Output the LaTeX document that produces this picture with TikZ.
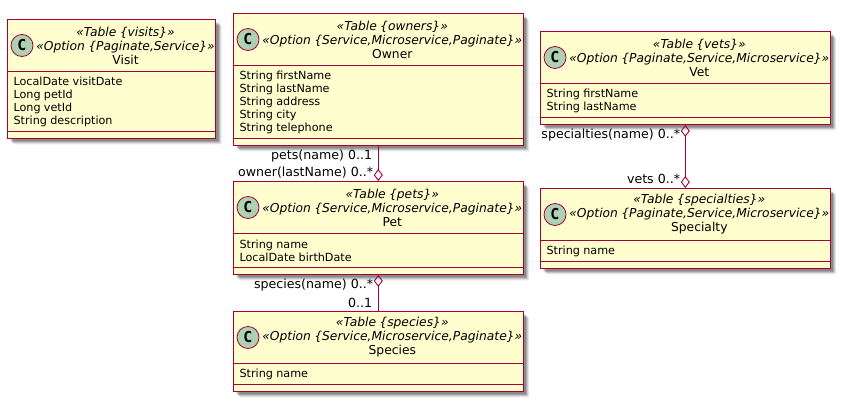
\documentclass[tikz,border=0pt]{standalone}
\usepackage{fontspec}
\setmainfont{DejaVu Sans}
\newfontfamily\markfont{DejaVu Sans Mono}
\usepackage{tikz}
\usetikzlibrary{arrows.meta,positioning,shadows,shapes.multipart}
\definecolor{umlline}{HTML}{A80036}
\definecolor{umlfill}{HTML}{FEFECE}
\definecolor{umlmark}{HTML}{ADD1B2}
\tikzset{class box/.style={
    rectangle split,
    rectangle split parts=3,
    rectangle split ignore empty parts=false,
    rectangle split empty part height=5pt,
    draw=umlline,
    fill=umlfill,
    line width=1.1pt,
    text width=#1,
    inner xsep=0pt,
    inner ysep=0pt,
    anchor=north west,
    general shadow={shadow xshift=6pt,shadow yshift=-6pt,fill=black,opacity=.08},
    general shadow={shadow xshift=5pt,shadow yshift=-5pt,fill=black,opacity=.12},
    general shadow={shadow xshift=4pt,shadow yshift=-4pt,fill=black,opacity=.16},
    general shadow={shadow xshift=3pt,shadow yshift=-3pt,fill=black,opacity=.2}
  },
  class box/.default=289.5pt,
  class mark/.style={
    circle,
    draw=umlline,
    fill=umlmark,
    line width=.8pt,
    minimum size=22pt,
    inner sep=0pt,
    font=\markfont\bfseries\fontsize{15}{15}\selectfont
  },
  mult label/.style={
    anchor=east,
    inner sep=0pt,
    font=\fontsize{12.6}{14}\selectfont
  },
  assoc/.style={
    draw=umlline,
    line width=.9pt
  },
  open diamond/.tip={Diamond[open,length=12pt,width=9pt]}
}
\newcommand{\classhead}[4]{\hspace*{28pt}\parbox[c][51pt][c]{\dimexpr#1-28pt\relax}{\centering
    \fontsize{12.3}{14}\selectfont\textit{«Table \{#2\}»}\\
    \textit{«Option \{#3\}»}\\
    #4}}
\newcommand{\classattrs}[2]{\vbox to \dimexpr7pt+#1pt*13\relax{\vfil
    \fontsize{11.2}{13}\selectfont\leftskip=6pt\relax\hbadness=10000 #2\par\vfil}}

\begin{document}
\begin{tikzpicture}[x=1pt,y=-1pt]
    \useasboundingbox (0,0) rectangle (842,404);
    \node[class box=208pt] (visit) at (7,19) {\classhead{208pt}{visits}{Paginate,Service}{Visit}
        \nodepart{two}\classattrs{4}{LocalDate visitDate\\Long petId\\Long vetId\\String description}};
    \node[class box] (owner) at (233,13) {\classhead{289.5pt}{owners}{Service,Microservice,Paginate}{Owner}
        \nodepart{two}\classattrs{5}{String firstName\\String lastName\\String address\\String city\\String telephone}};
    \node[class box] (pet) at (233,181) {\classhead{289.5pt}{pets}{Service,Microservice,Paginate}{Pet}
        \nodepart{two}\classattrs{2}{String name\\LocalDate birthDate}};
    \node[class box] (species) at (233,311) {\classhead{289.5pt}{species}{Service,Microservice,Paginate}{Species}
        \nodepart{two}\classattrs{1}{String name}};
    \node[class box] (vet) at (540,31) {\classhead{289.5pt}{vets}{Paginate,Service,Microservice}{Vet}
        \nodepart{two}\classattrs{2}{String firstName\\String lastName}};
    \node[class box] (specialty) at (540,188) {\classhead{289.5pt}{specialties}{Paginate,Service,Microservice}{Specialty}
        \nodepart{two}\classattrs{1}{String name}};

    \foreach \cls in {visit,owner,pet,species,vet,specialty}
        \node[class mark] (\cls Mark) at ([xshift=15pt,yshift=-26.5pt]\cls.north west) {C};

    \draw[assoc,-open diamond] (owner.south) -- (pet.north);
    \draw[assoc,open diamond-] (pet.south) -- (species.north);
    \draw[assoc,open diamond-open diamond] (vet.south) -- (specialty.north);

    \node[mult label] (ownerEnd) at ([xshift=-6pt,yshift=-10pt]owner.south) {pets(name) 0..1};
    \node[mult label] (petStart) at ([xshift=-5pt,yshift=8pt]pet.north) {owner(lastName) 0..*};
    \node[mult label] (petEnd) at ([xshift=-5pt,yshift=-10pt]pet.south) {species(name) 0..*};
    \node[mult label] (speciesStart) at ([xshift=-6pt,yshift=8pt]species.north) {0..1};
    \node[mult label] (vetEnd) at ([xshift=-5pt,yshift=-10pt]vet.south) {specialties(name) 0..*};
    \node[mult label] (specialtyStart) at ([xshift=-5pt,yshift=9pt]specialty.north) {vets 0..*};
\end{tikzpicture}
\end{document}
